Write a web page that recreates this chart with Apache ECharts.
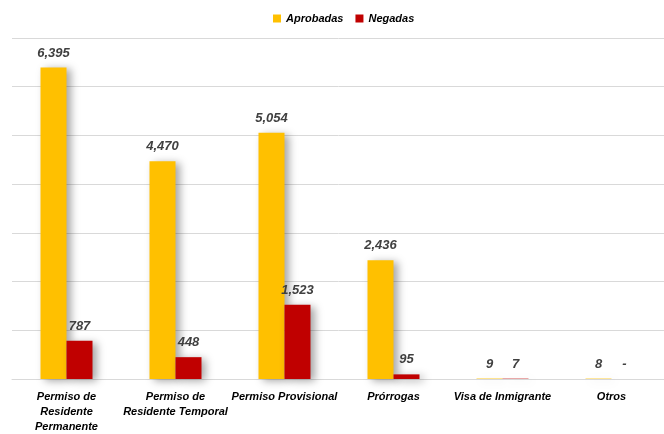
<!DOCTYPE html>
<html>
<head>
<meta charset="utf-8">
<script src="https://cdn.jsdelivr.net/npm/echarts@6/dist/echarts.min.js"></script>
<style>
  html, body { margin: 0; padding: 0; background: #fff; }
  #chart { width: 664px; height: 434px; }
</style>
</head>
<body>
<div id="chart"></div>
<script>
var categories = [
    'Permiso de\nResidente\nPermanente',
    'Permiso de\nResidente Temporal',
    'Permiso Provisional',
    'Prórrogas',
    'Visa de Inmigrante',
    'Otros'
];
var aprobadas = [6395, 4470, 5054, 2436, 9, 8];
var negadas = [787, 448, 1523, 95, 7, 0];

var myChart = echarts.init(document.getElementById('chart'));
var fontFam = '"Liberation Sans", Arial, sans-serif';

// etiqueta comun para los valores
function valueLabel() {
    return {
        show: true,
        position: 'top',
        distance: 8,
        color: '#404040',
        fontFamily: fontFam,
        fontSize: 13,
        fontWeight: 'bold',
        fontStyle: 'italic',
        formatter: function (p) {
            return p.value === 0 ? '-' : p.value.toLocaleString('en-US');
        }
    };
}

var option = {
    animation: false,
    legend: {
        top: 8,
        left: 268,
        itemWidth: 8,
        itemHeight: 8,
        itemGap: 12,
        icon: 'rect',
        textStyle: {
            color: '#000',
            fontFamily: fontFam,
            fontSize: 11,
            fontWeight: 'bold',
            fontStyle: 'italic'
        },
        data: ['Aprobadas', 'Negadas']
    },
    grid: {
        left: 12,
        right: -2,
        top: 38,
        bottom: 55,
        outerBoundsMode: 'none'
    },
    xAxis: {
        type: 'category',
        data: categories,
        axisTick: { show: false },
        axisLine: { lineStyle: { color: '#d9d9d9' } },
        axisLabel: {
            interval: 0,
            margin: 10,
            color: '#000',
            fontFamily: fontFam,
            fontSize: 11,
            fontWeight: 'bold',
            fontStyle: 'italic',
            lineHeight: 15
        }
    },
    yAxis: {
        type: 'value',
        min: 0,
        max: 7000,
        interval: 1000,
        axisLabel: { show: false },
        axisLine: { show: false },
        axisTick: { show: false },
        splitLine: { lineStyle: { color: '#d9d9d9' } }
    },
    series: [
        {
            name: 'Aprobadas',
            type: 'bar',
            data: aprobadas,
            barWidth: 26,
            barGap: '0%',
            itemStyle: {
                color: '#FFC000',
                shadowColor: 'rgba(0,0,0,0.35)',
                shadowBlur: 8,
                shadowOffsetX: 4,
                shadowOffsetY: 2
            },
            label: valueLabel()
        },
        {
            name: 'Negadas',
            type: 'bar',
            data: negadas,
            barWidth: 26,
            itemStyle: {
                color: '#C00000',
                shadowColor: 'rgba(0,0,0,0.35)',
                shadowBlur: 8,
                shadowOffsetX: 4,
                shadowOffsetY: 2
            },
            label: valueLabel()
        }
    ]
};

myChart.setOption(option);
</script>
</body>
</html>
